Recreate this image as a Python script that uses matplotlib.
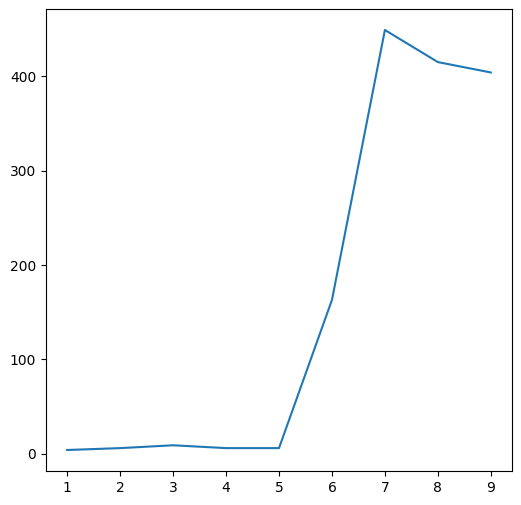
import matplotlib
matplotlib.use("Agg")
import matplotlib.pyplot as plt

x = [1, 2, 3, 4, 5, 6, 7, 8, 9]
y = [4, 6, 9, 6, 6, 163, 449, 415, 404]

fig = plt.figure(figsize=(5.21, 5.05), dpi=100)
ax = fig.add_axes([46/521, 34/505, 466/521, 462/505])
ax.plot(x, y)
ax.set_yticks([0, 100, 200, 300, 400])
fig.savefig("out.png", dpi=100)
